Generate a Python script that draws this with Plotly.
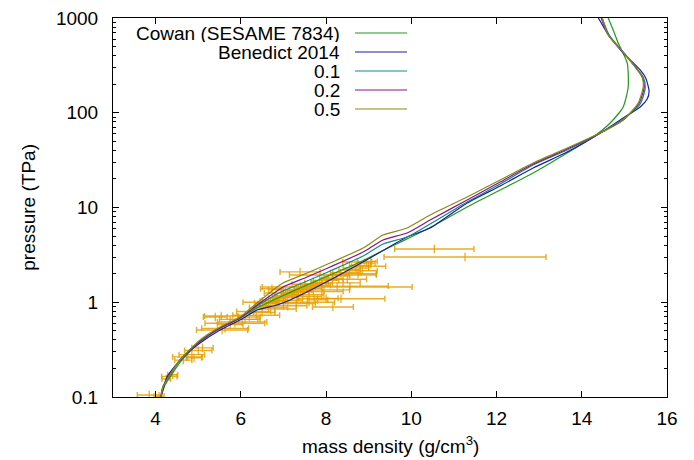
import plotly.graph_objects as go

# ---------------- data ----------------
cowan_rho = [4.127, 4.221, 4.620, 5.042, 5.512, 5.981, 6.380, 6.920, 7.390, 8.094, 8.798, 9.502, 10.042,
             10.512, 11.310, 12.085, 12.859, 13.657, 14.268, 14.667, 14.972, 15.089, 15.066, 14.854, 14.737, 14.620]
cowan_p = [0.1, 0.134, 0.246, 0.381, 0.535, 0.682, 0.870, 1.136, 1.414, 1.940, 2.660, 3.83, 5.0,
           6.38, 10.12, 15.30, 23.13, 37.60, 55.48, 77.96, 115.0, 187.0, 335.1, 544.6, 747.1, 1000]

bened_rho = [4.127, 4.268, 4.643, 5.042, 5.512, 5.981, 6.380, 6.850, 7.155, 8.094, 9.033, 9.901, 10.441,
             11.310, 12.085, 12.859, 13.657, 14.479, 14.972, 15.371, 15.535, 15.580, 15.500, 15.371, 14.972,
             14.714, 14.596, 14.39]
bened_p = [0.1, 0.163, 0.264, 0.371, 0.510, 0.650, 0.828, 0.935, 1.056, 1.718, 2.931, 4.884, 6.076,
           11.16, 16.87, 26.12, 38.53, 62.65, 88.02, 115.0, 139.7, 168.0, 232.7, 282.7, 427.2,
           586.0, 694.5, 1000]

m01_rho = [4.127, 4.174, 4.573, 5.042, 5.512, 5.981, 6.380, 6.850, 6.991, 7.554, 8.094, 8.869, 9.338,
           9.901, 10.441, 11.310, 12.085, 12.859, 13.657, 14.479, 14.972, 15.371, 15.488, 15.441, 15.089,
           14.643, 14.479]
m01_p = [0.1, 0.13, 0.246, 0.385, 0.535, 0.682, 0.913, 1.222, 1.314, 1.676, 2.137, 3.077, 4.120,
         4.884, 6.698, 11.43, 17.70, 28.09, 40.45, 62.65, 85.9, 124.0, 182.0, 238.0, 380.0, 662.0, 1000]

m02_rho = [4.127, 4.174, 4.573, 5.042, 5.512, 5.981, 6.380, 6.850, 6.991, 7.554, 8.094, 8.869, 9.338,
           9.901, 10.441, 11.310, 12.085, 12.859, 13.657, 14.479, 14.972, 15.347, 15.465, 15.418, 15.066,
           14.620, 14.456]
m02_p = [0.1, 0.1275, 0.246, 0.390, 0.535, 0.682, 0.935, 1.314, 1.449, 1.847, 2.355, 3.391, 4.539,
         5.382, 7.381, 12.0, 18.58, 28.78, 41.44, 62.65, 83.84, 126.7, 187.0, 238.4, 387.7, 661.6, 1000]

m05_rho = [4.127, 4.174, 4.573, 5.042, 5.512, 5.981, 6.380, 6.850, 6.991, 7.554, 8.094, 8.869, 9.338,
           9.901, 10.441, 11.310, 12.085, 12.859, 13.657, 14.479, 14.972, 15.324, 15.441, 15.418, 15.066,
           14.620, 14.479]
m05_p = [0.1, 0.1275, 0.246, 0.400, 0.548, 0.699, 0.982, 1.449, 1.597, 2.036, 2.596, 3.738, 5.128,
         6.076, 8.333, 12.91, 19.51, 29.49, 42.46, 62.65, 83.84, 126.7, 187.0, 238.4, 387.7, 661.6, 1000]

# experimental points: density, half-width of density error, pressure
exp_rho = [3.85, 4.08, 4.25, 4.32, 4.40, 4.65, 4.75, 4.85, 4.90, 5.00, 5.10,
           5.40, 5.54, 5.56, 5.63, 5.86, 6.03, 5.75, 6.10, 6.36, 6.20, 6.45, 6.50, 6.60, 6.73, 6.80,
           6.50, 6.60, 6.70, 6.75, 6.85, 6.90, 7.00, 7.05, 7.10, 7.20, 7.25, 7.30, 7.40, 7.45, 7.55,
           7.60, 7.70, 7.75, 7.85, 7.90, 8.00, 8.05, 8.15, 8.25, 8.35, 8.45, 8.55, 8.70, 8.80, 8.95,
           9.05, 6.95, 7.15,
           7.00, 7.30, 7.60, 7.80, 8.00, 8.16, 8.35, 8.26, 8.56, 8.16, 7.39, 8.75, 8.73, 10.54, 11.26,
           7.60, 7.90, 8.40, 9.00, 7.50, 6.65, 7.10, 7.35, 7.95, 8.50, 8.85, 6.30, 5.95]
exp_drho = [0.28, 0.12, 0.10, 0.18, 0.12, 0.20, 0.35, 0.30, 0.18, 0.32, 0.25,
            0.28, 0.39, 0.60, 0.55, 0.70, 0.58, 0.30, 0.35, 0.55, 0.25, 0.40, 0.30, 0.28, 0.27, 0.50,
            0.15, 0.20, 0.12, 0.25, 0.20, 0.15, 0.20, 0.30, 0.15, 0.25, 0.20, 0.30, 0.15, 0.25, 0.20,
            0.30, 0.20, 0.35, 0.20, 0.25, 0.30, 0.20, 0.25, 0.30, 0.20, 0.35, 0.25, 0.30, 0.25, 0.20,
            0.15, 0.40, 0.50,
            0.55, 0.45, 0.60, 0.24, 0.28, 0.48, 1.03, 1.76, 0.90, 1.02, 0.47, 0.43, 0.34, 0.93, 1.90,
            0.35, 0.50, 0.40, 0.40, 0.30, 0.45, 0.35, 0.55, 0.60, 0.45, 0.35, 0.40, 0.45]
exp_p = [0.105, 0.102, 0.155, 0.165, 0.172, 0.245, 0.265, 0.28, 0.26, 0.31, 0.33,
         0.70, 0.716, 0.51, 0.53, 0.60, 0.62, 0.58, 0.66, 0.73, 0.70, 1.00, 0.78, 0.99, 1.39, 0.85,
         0.92, 0.97, 1.00, 1.05, 1.10, 1.02, 1.18, 1.12, 1.25, 1.20, 1.32, 1.28, 1.38, 1.30, 1.45,
         1.40, 1.55, 1.50, 1.62, 1.58, 1.70, 1.80, 1.75, 1.90, 1.95, 2.05, 2.20, 2.30, 2.45, 2.60,
         2.70, 1.25, 1.35,
         0.92, 0.97, 1.00, 1.06, 1.10, 0.89, 1.09, 1.45, 1.48, 1.94, 2.09, 2.00, 2.66, 3.65, 3.00,
         1.20, 1.30, 1.60, 2.40, 1.55, 0.88, 1.05, 1.15, 1.35, 1.75, 2.15, 0.80, 0.66]

x_ticks = [4, 6, 8, 10, 12, 14, 16]
y_ticks = [0.1, 1, 10, 100, 1000]
y_ticktext = ["0.1", "1", "10", "100", "1000"]
y_minor = [m * d for d in (0.1, 1, 10, 100) for m in range(2, 10)]

names = ["Cowan (SESAME 7834)", "Benedict 2014", "0.1", "0.2", "0.5"]
colors = ["#1f9a1f", "#1c1ca0", "#118a8a", "#8c128c", "#8a8a12"]
curves = [(cowan_rho, cowan_p), (bened_rho, bened_p), (m01_rho, m01_p), (m02_rho, m02_p), (m05_rho, m05_p)]

ORANGE = "rgba(230,159,0,0.85)"
FONT = "Liberation Sans, Arial, Helvetica, sans-serif"

fig = go.Figure()
fig.add_trace(go.Scatter(
    x=exp_rho, y=exp_p, mode="markers", showlegend=False, hoverinfo="skip",
    marker=dict(symbol="line-ns-open", size=6, color=ORANGE, line=dict(width=1.3, color=ORANGE)),
    error_x=dict(type="data", array=exp_drho, color=ORANGE, thickness=1.4, width=3),
))
for (xs, ys), nm, c in zip(curves, names, colors):
    fig.add_trace(go.Scatter(x=xs, y=ys, mode="lines", name=nm, showlegend=False, hoverinfo="skip",
                             line=dict(color=c, width=1.2, shape="spline", smoothing=0.6)))

# gnuplot-like key (text right-aligned, sample line to the right)
row_y = [0.9604, 0.9103, 0.8602, 0.8100, 0.7599]
for nm, c, yy in zip(names, colors, row_y):
    fig.add_annotation(xref="paper", yref="paper", x=0.4134, y=yy, text=nm, showarrow=False,
                       xanchor="right", yanchor="middle", height=18, valign="middle",
                       font=dict(size=19, color="black", family=FONT))
    fig.add_shape(type="line", xref="paper", yref="paper", x0=0.4368, x1=0.5307, y0=yy, y1=yy,
                  line=dict(color=c, width=1.2))

fig.add_annotation(xref="paper", yref="paper", x=0.5, y=-0.127, text="mass density (g/cm<sup>3</sup>)",
                   showarrow=False, xanchor="center", yanchor="middle",
                   font=dict(size=19, color="black", family=FONT))
fig.add_annotation(xref="paper", yref="paper", x=-0.153, y=0.5, text="pressure (TPa)", textangle=-90,
                   showarrow=False, xanchor="center", yanchor="middle",
                   font=dict(size=19, color="black", family=FONT))

axis_common = dict(showline=True, linecolor="black", linewidth=1, mirror="allticks", ticks="inside",
                   tickcolor="black", showgrid=False, zeroline=False, automargin=False,
                   tickfont=dict(size=19, color="black", family=FONT))
fig.update_xaxes(range=[3, 16], tickvals=x_ticks, ticklen=6, ticklabelstandoff=4, **axis_common)
fig.update_yaxes(type="log", range=[-1, 3], tickvals=y_ticks, ticktext=y_ticktext, ticklen=6,
                 ticklabelstandoff=10,
                 minor=dict(tickvals=y_minor, ticks="inside", ticklen=3, tickcolor="black", showgrid=False),
                 **axis_common)

fig.update_layout(width=694, height=460, margin=dict(l=113, r=27, t=18, b=63, autoexpand=False),
                  paper_bgcolor="white", plot_bgcolor="white", showlegend=False, hovermode=False,
                  font=dict(family=FONT, color="black"))
fig.write_html("out.html", config={"displayModeBar": False, "staticPlot": True},
               post_script="document.body.style.margin='0';document.body.style.overflow='hidden';")
